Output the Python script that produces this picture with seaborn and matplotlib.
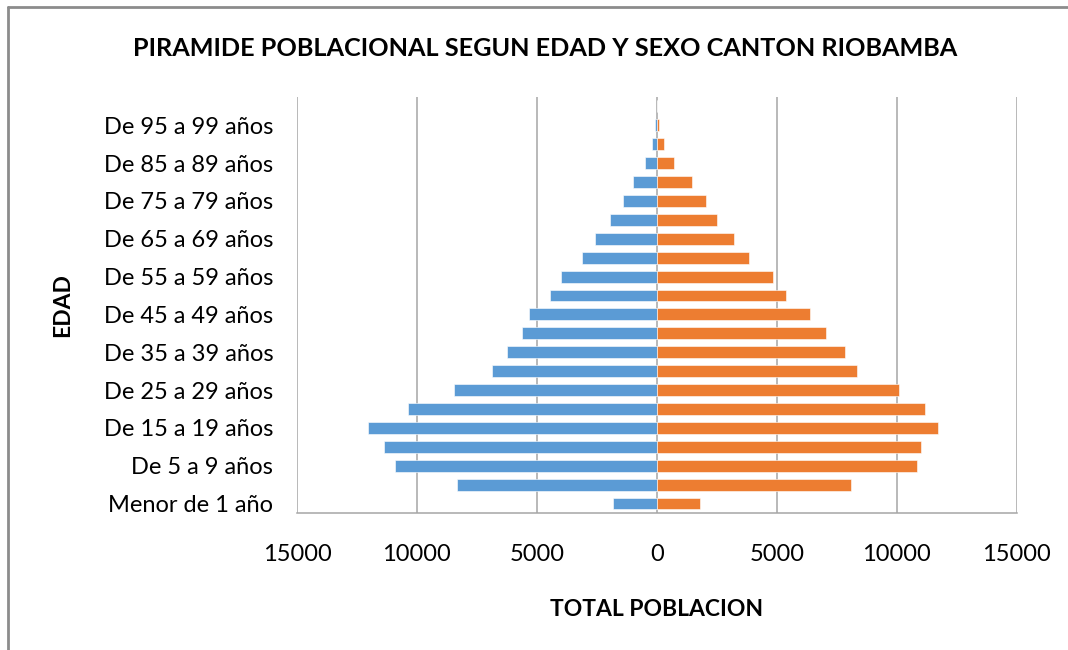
import matplotlib
matplotlib.use("Agg")
import matplotlib.pyplot as plt
import pandas as pd
import seaborn as sns

# grupos de edad, de abajo hacia arriba
edades = ["Menor de 1 año", "De 1 a 4 años", "De 5 a 9 años", "De 10 a 14 años",
          "De 15 a 19 años", "De 20 a 24 años", "De 25 a 29 años", "De 30 a 34 años",
          "De 35 a 39 años", "De 40 a 44 años", "De 45 a 49 años", "De 50 a 54 años",
          "De 55 a 59 años", "De 60 a 64 años", "De 65 a 69 años", "De 70 a 74 años",
          "De 75 a 79 años", "De 80 a 84 años", "De 85 a 89 años", "De 90 a 94 años",
          "De 95 a 99 años", "De 100 años y más"]
hombres = [1810, 8310, 10900, 11360, 12030, 10390, 8440, 6870, 6240, 5630, 5320,
           4470, 3980, 3110, 2560, 1970, 1420, 980, 510, 220, 60, 10]
mujeres = [1810, 8090, 10830, 11000, 11710, 11160, 10100, 8350, 7850, 7070, 6380,
           5370, 4840, 3860, 3230, 2500, 2030, 1460, 730, 310, 100, 20]
ticks_x = [-15000, -10000, -5000, 0, 5000, 10000, 15000]

df = pd.concat([
    pd.DataFrame({"edad": edades, "sexo": "Hombres", "total": [-v for v in hombres]}),
    pd.DataFrame({"edad": edades, "sexo": "Mujeres", "total": mujeres}),
])

sns.set_theme(style="white")
plt.rcParams["font.family"] = ["Lato", "DejaVu Sans"]
for k in ["text.color", "axes.labelcolor", "xtick.color", "ytick.color"]:
    plt.rcParams[k] = "black"

fig = plt.figure(figsize=(10.68, 6.5), dpi=100)
ax = fig.add_axes([0.278, 0.2108, 0.674, 0.640])

orden = edades[::-1]
sns.barplot(data=df, x="total", y="edad", hue="sexo", order=orden, orient="h",
            dodge=False, width=0.63, palette=["#5B9BD5", "#ED7D31"], saturation=1,
            edgecolor="white", linewidth=0.4, legend=False, ax=ax)

ax.set_xlim(-15000, 15000)
ax.set_xticks(ticks_x)
ax.set_xticklabels([str(abs(t)) for t in ticks_x], fontsize=17)
ax.set_yticks(range(len(orden)))
ax.set_yticklabels([e if (len(orden) - 1 - i) % 2 == 0 and e != "De 100 años y más" else ""
                    for i, e in enumerate(orden)], fontsize=17)
ax.tick_params(axis="x", length=0, pad=22)
ax.tick_params(axis="y", length=0, pad=17)

ax.grid(axis="x", color="#A6A6A6", linewidth=1.1)
ax.set_axisbelow(True)
for s in ["top", "left", "right"]:
    ax.spines[s].set_visible(False)
ax.spines["bottom"].set_color("#A6A6A6")
ax.spines["bottom"].set_linewidth(1.1)

ax.set_xlabel("TOTAL POBLACION", fontsize=16.5, fontweight="bold", labelpad=25)
ax.set_ylabel("EDAD", fontsize=16.5, fontweight="bold", labelpad=22)

fig.text(0.51, 0.926, "PIRAMIDE POBLACIONAL SEGUN EDAD Y SEXO CANTON RIOBAMBA",
         ha="center", va="center", fontsize=18.2, fontweight="bold")

# marco del grafico
fig.add_artist(plt.Line2D([8 / 1068, 1.0], [1 - 7 / 650, 1 - 7 / 650], color="#8C8C8C", linewidth=2))
fig.add_artist(plt.Line2D([8 / 1068, 8 / 1068], [0.0, 1 - 7 / 650], color="#8C8C8C", linewidth=2))

fig.savefig("out.png", dpi=100, facecolor="white")
